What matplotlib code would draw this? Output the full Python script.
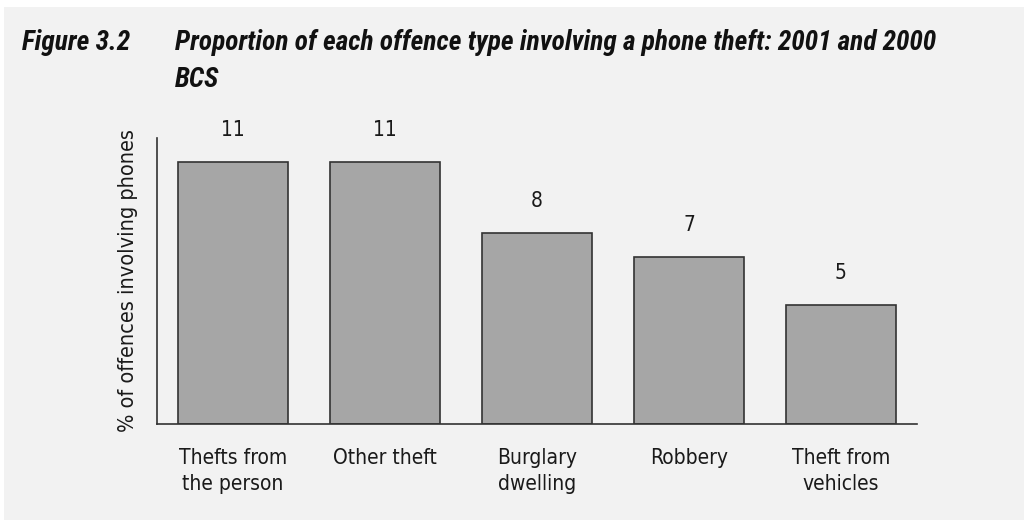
import matplotlib
matplotlib.use('Agg')
import matplotlib.pyplot as plt
from matplotlib import font_manager
from matplotlib.patches import Rectangle

# phone thefts as share of each offence type, BCS 2001 and 2000
CATEGORIES = ['Thefts from\nthe person', 'Other theft', 'Burglary\ndwelling',
              'Robbery', 'Theft from\nvehicles']
PCT_PHONES = [11, 11, 8, 7, 5]

BG = '#f2f2f2'
BAR = '#a6a6a6'
INK = '#1a1a1a'

# narrowest sans available for the heading
installed = {f.name for f in font_manager.fontManager.ttflist}
HEAD_FONT = next((f for f in ['Liberation Sans Narrow', 'Roboto Condensed',
                              'Open Sans Condensed', 'DejaVu Sans'] if f in installed),
                 'DejaVu Sans')

W, H = 1024, 520
fig = plt.figure(figsize=(W / 100, H / 100), dpi=100)
fig.patch.set_facecolor('white')
# grey panel with a thin white margin along the top and left edge
fig.patches.append(Rectangle((4 / W, 0), 1, 1 - 7 / H, transform=fig.transFigure,
                             facecolor=BG, edgecolor='none', zorder=-10))

ax = fig.add_axes([157 / W, (H - 424) / H, (917 - 157) / W, (424 - 138) / H])
ax.set_facecolor(BG)

body = dict(family='DejaVu Sans', fontstretch='condensed', color=INK)

x = range(len(CATEGORIES))
bars = ax.bar(x, PCT_PHONES, width=0.72, color=BAR, edgecolor='#333333', linewidth=1.2)
for rect, v in zip(bars, PCT_PHONES):
    ax.annotate(f'{v}', (rect.get_x() + rect.get_width() / 2, v),
                xytext=(0, 16), textcoords='offset points', ha='center', va='bottom',
                fontsize=15, **body)

ax.set_xlim(-0.5, len(CATEGORIES) - 0.5)
ax.set_ylim(0, 12)
ax.set_yticks([])
ax.set_xticks(list(x))
ax.set_xticklabels(CATEGORIES, fontsize=15, linespacing=1.4, **body)
ax.tick_params(axis='x', length=0, pad=17)
for s in ('top', 'right'):
    ax.spines[s].set_visible(False)
for s in ('left', 'bottom'):
    ax.spines[s].set_color('#333333')
    ax.spines[s].set_linewidth(1.2)

ax.set_ylabel('% of offences involving phones', fontsize=15.5, labelpad=14, **body)

title_kw = dict(fontsize=22, fontweight='bold', fontstyle='italic', color='#111111',
                family=HEAD_FONT, fontstretch='condensed', va='baseline')
t_fig = fig.text(22 / W, 1 - 50 / H, 'Figure 3.2', **title_kw)
t_main = fig.text(175 / W, 1 - 50 / H,
                  'Proportion of each offence type involving a phone theft: 2001 and 2000',
                  **title_kw)
t_bcs = fig.text(175 / W, 1 - 87 / H, 'BCS', **title_kw)

# shrink the heading until the long line fits between x=175 and x=935 px
r = fig.canvas.get_renderer()
width = t_main.get_window_extent(r).width
scale = min(1.0, 760 / width)
for t in (t_fig, t_main, t_bcs):
    t.set_fontsize(22 * scale)

fig.savefig('out.png', dpi=100, facecolor=fig.get_facecolor())
